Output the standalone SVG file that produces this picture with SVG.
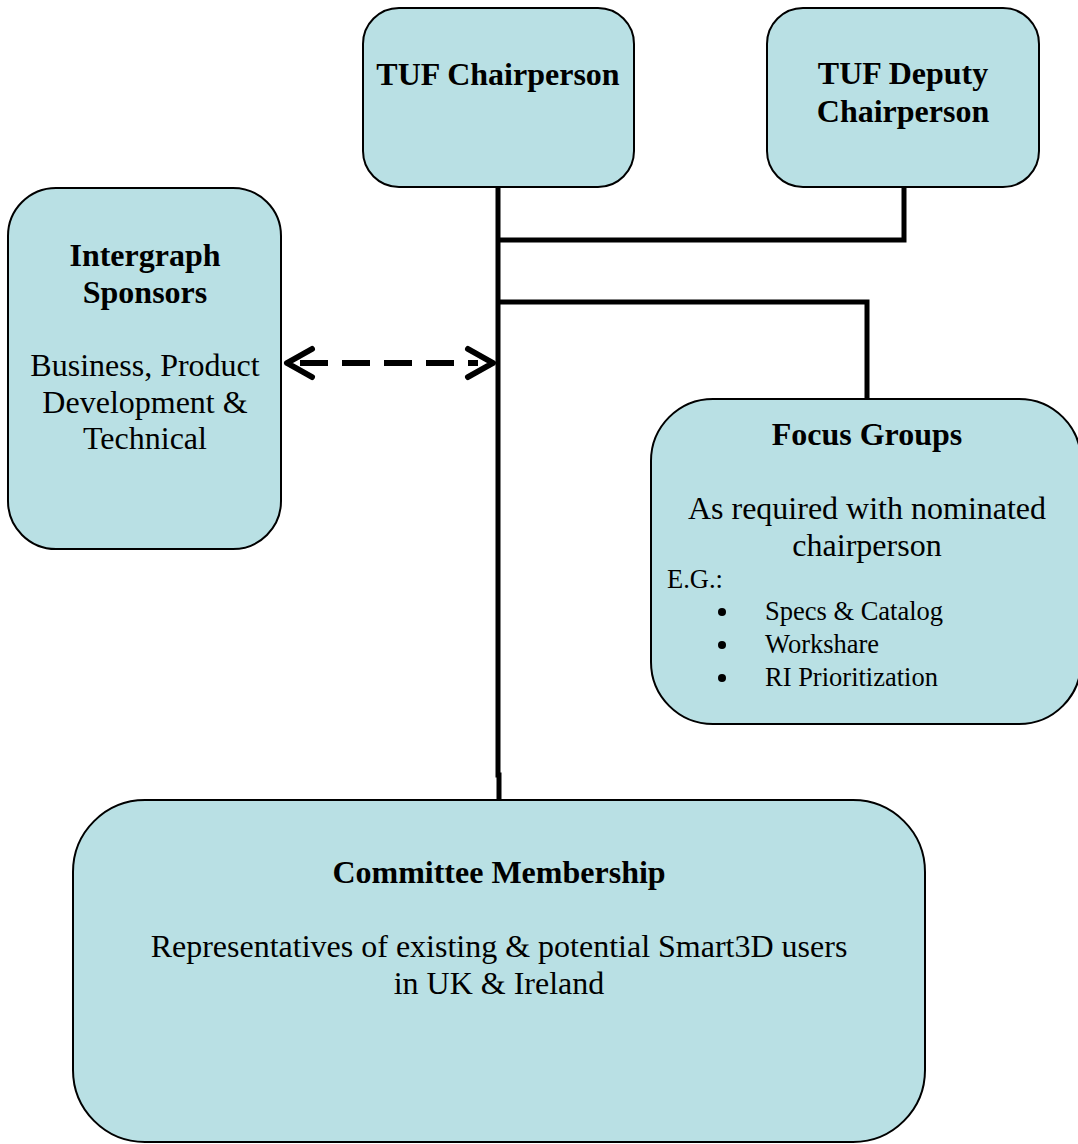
<svg xmlns="http://www.w3.org/2000/svg" width="1078" height="1144" viewBox="0 0 1078 1144">
<defs>
<style>
.box{fill:#B9E0E4;stroke:#000;stroke-width:2}
.line{fill:none;stroke:#000;stroke-width:5}
text{font-family:'Liberation Serif','Times New Roman','DejaVu Serif',serif;fill:#000}
.t{font-size:32px;text-anchor:middle}
.b{font-weight:bold}
.s{font-size:26.5px}
</style>
</defs>
<rect width="1078" height="1144" fill="#fff"/>
<g id="connectors">
<polyline class="line" points="498,187 498,775 499,775 499,800"/>
<polyline class="line" points="498,240 904,240 904,187"/>
<polyline class="line" points="498,302 867,302 867,399"/>
<line x1="300" y1="363" x2="478" y2="363" stroke="#000" stroke-width="6" stroke-dasharray="28,14"/>
<polyline points="312,349 287,363 312,377" fill="none" stroke="#000" stroke-width="6" stroke-linecap="round" stroke-linejoin="round"/>
<polyline points="468,349 493,363 468,377" fill="none" stroke="#000" stroke-width="6" stroke-linecap="round" stroke-linejoin="round"/>
</g>
<g id="tuf-chair">
<rect class="box" x="363" y="8" width="271" height="179" rx="36"/>
<text class="t b" x="498" y="85">TUF Chairperson</text>
</g>
<g id="tuf-deputy">
<rect class="box" x="767" y="8" width="272" height="179" rx="36"/>
<text class="t b" x="903" y="84">TUF Deputy</text>
<text class="t b" x="903" y="122">Chairperson</text>
</g>
<g id="sponsors">
<rect class="box" x="8" y="188" width="273" height="361" rx="48"/>
<text class="t b" x="145" y="266">Intergraph</text>
<text class="t b" x="145" y="303">Sponsors</text>
<text class="t" x="145" y="376">Business, Product</text>
<text class="t" x="145" y="413">Development &amp;</text>
<text class="t" x="145" y="449">Technical</text>
</g>
<g id="focus">
<rect class="box" x="651" y="399" width="430" height="325" rx="62"/>
<text class="t b" x="867" y="445">Focus Groups</text>
<text class="t" x="867" y="519">As required with nominated</text>
<text class="t" x="867" y="556">chairperson</text>
<text class="s" x="667" y="588">E.G.:</text>
<circle cx="722" cy="612" r="4"/>
<circle cx="722" cy="645" r="4"/>
<circle cx="722" cy="678" r="4"/>
<text class="s" x="765" y="620">Specs &amp; Catalog</text>
<text class="s" x="765" y="653">Workshare</text>
<text class="s" x="765" y="686">RI Prioritization</text>
</g>
<g id="committee">
<rect class="box" x="73" y="800" width="852" height="342" rx="72"/>
<text class="t b" x="499" y="883">Committee Membership</text>
<text class="t" x="499" y="957">Representatives of existing &amp; potential Smart3D users</text>
<text class="t" x="499" y="994">in UK &amp; Ireland</text>
</g>
</svg>
